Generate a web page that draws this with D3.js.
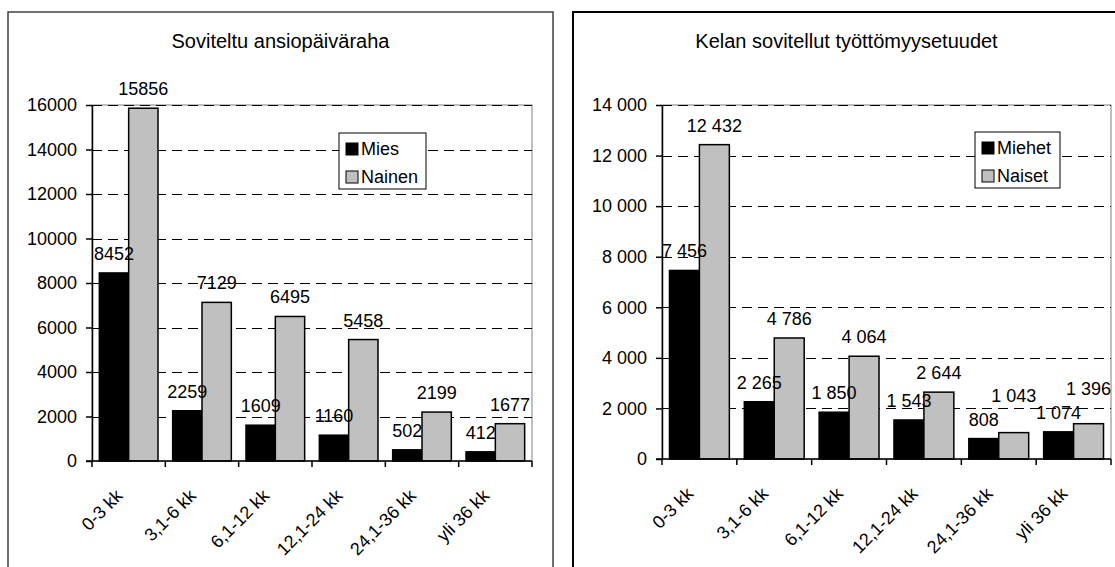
<!DOCTYPE html>
<html>
<head>
<meta charset="utf-8">
<script src="https://cdn.jsdelivr.net/npm/d3@7"></script>
<style>
  html, body { margin: 0; padding: 0; background: #fff; }
  svg { display: block; }
  text { font-family: "Liberation Sans", Arial, sans-serif; fill: #000; }
</style>
</head>
<body>
<svg id="chart" width="1115" height="567"></svg>
<script>
// ---- Data ----
const categories = ["0-3 kk", "3,1-6 kk", "6,1-12 kk", "12,1-24 kk", "24,1-36 kk", "yli 36 kk"];

const leftTitle = "Soviteltu ansiopäiväraha";
const leftSeriesNames = ["Mies", "Nainen"];
const leftMale = [8452, 2259, 1609, 1160, 502, 412];
const leftFemale = [15856, 7129, 6495, 5458, 2199, 1677];
const leftTicks = [0, 2000, 4000, 6000, 8000, 10000, 12000, 14000, 16000];

const rightTitle = "Kelan sovitellut työttömyysetuudet";
const rightSeriesNames = ["Miehet", "Naiset"];
const rightMale = [7456, 2265, 1850, 1543, 808, 1074];
const rightFemale = [12432, 4786, 4064, 2644, 1043, 1396];
const rightTicks = [0, 2000, 4000, 6000, 8000, 10000, 12000, 14000];

const seriesColors = ["#000000", "#c0c0c0"];

const fiLocale = d3.formatLocale({decimal: ",", thousands: "\u00a0", grouping: [3], currency: ["", " €"]});
const fmtPlain = d3.format("d");
const fmtSpace = fiLocale.format(",d");

const svg = d3.select("#chart");

function drawChart(cfg) {
  const g = svg.append("g");
  // outer border
  g.append("rect")
    .attr("x", cfg.border[0]).attr("y", cfg.border[1])
    .attr("width", cfg.border[2] - cfg.border[0]).attr("height", cfg.border[3] - cfg.border[1])
    .attr("fill", "none").attr("stroke", cfg.borderColor).attr("stroke-width", cfg.borderWidth);

  // title
  g.append("text")
    .attr("x", (cfg.border[0] + cfg.border[2]) / 2)
    .attr("y", cfg.titleY)
    .attr("text-anchor", "middle")
    .style("font-size", "20px")
    .text(cfg.title);

  const x0 = d3.scaleBand().domain(categories).range([cfg.plot.x0, cfg.plot.x1])
    .paddingInner(0.2).paddingOuter(0.1);
  const x1 = d3.scaleBand().domain([0, 1]).range([0, x0.bandwidth()]).padding(0);
  const y = d3.scaleLinear().domain([0, cfg.max]).range([cfg.plot.y1, cfg.plot.y0]);

  // plot area border
  g.append("rect")
    .attr("x", cfg.plot.x0).attr("y", cfg.plot.y0)
    .attr("width", cfg.plot.x1 - cfg.plot.x0).attr("height", cfg.plot.y1 - cfg.plot.y0)
    .attr("fill", "none").attr("stroke", "#808080").attr("stroke-width", 1);

  // gridlines
  g.selectAll(".grid").data(cfg.ticks.filter(t => t > 0)).join("line")
    .attr("x1", cfg.plot.x0).attr("x2", cfg.plot.x1)
    .attr("y1", d => Math.round(y(d)) + 0.5).attr("y2", d => Math.round(y(d)) + 0.5)
    .attr("stroke", "#000").attr("stroke-width", 1).attr("stroke-dasharray", "10,6");

  // bars
  const series = [cfg.male, cfg.female];
  series.forEach((vals, si) => {
    g.selectAll(".bar" + si).data(vals).join("rect")
      .attr("x", (d, i) => x0(categories[i]) + x1(si))
      .attr("y", d => y(d))
      .attr("width", x1.bandwidth())
      .attr("height", d => y(0) - y(d))
      .attr("fill", seriesColors[si])
      .attr("stroke", "#000").attr("stroke-width", 1.5);
  });

  // y axis
  const yAxis = d3.axisLeft(y).tickValues(cfg.ticks).tickFormat(cfg.fmt)
    .tickSize(6).tickSizeOuter(0).tickPadding(9);
  const ya = g.append("g").attr("transform", `translate(${cfg.plot.x0},0)`).call(yAxis);
  ya.select(".domain").attr("stroke", "#000").attr("stroke-width", 1.5);
  ya.selectAll(".tick line").attr("stroke", "#000").attr("stroke-width", 1.5);
  ya.selectAll(".tick text").style("font-size", "18px").attr("fill", "#000")
    .attr("font-family", null);

  // x axis line
  g.append("line")
    .attr("x1", cfg.plot.x0 - 6).attr("x2", cfg.plot.x1)
    .attr("y1", y(0)).attr("y2", y(0))
    .attr("stroke", "#000").attr("stroke-width", 1.5);
  // x ticks at group boundaries
  const step = x0.step();
  const half = (step - x0.bandwidth()) / 2;
  const bounds = categories.map(c => x0(c) - half).concat([cfg.plot.x1]);
  g.selectAll(".xtick").data(bounds).join("line")
    .attr("x1", d => d).attr("x2", d => d)
    .attr("y1", y(0)).attr("y2", y(0) + 6)
    .attr("stroke", "#000").attr("stroke-width", 1.5);

  // x labels rotated
  g.selectAll(".xlab").data(categories).join("text")
    .attr("transform", d => `translate(${x0(d) + x0.bandwidth() / 2 - 5},${y(0) + 36}) rotate(-45)`)
    .attr("text-anchor", "end")
    .style("font-size", "18px")
    .text(d => d);

  // value labels (female label lifted when it would collide with the male label)
  const labY = [[], []];
  cfg.male.forEach((d, i) => {
    const ym = y(d) - 13;
    let yf = y(cfg.female[i]) - 13;
    if (yf > ym - 20) yf = ym - 24;
    labY[0].push(ym); labY[1].push(yf);
  });
  series.forEach((vals, si) => {
    g.selectAll(".lab" + si).data(vals).join("text")
      .attr("x", (d, i) => x0(categories[i]) + x1(si) + x1.bandwidth() / 2)
      .attr("y", (d, i) => labY[si][i])
      .attr("text-anchor", "middle")
      .style("font-size", "18px")
      .text(d => cfg.fmt(d));
  });

  // legend
  const L = cfg.legend;
  const lg = g.append("g");
  lg.append("rect")
    .attr("x", L.x).attr("y", L.y).attr("width", L.w).attr("height", L.h)
    .attr("fill", "#fff").attr("stroke", "#000").attr("stroke-width", 1);
  cfg.names.forEach((name, i) => {
    const by = L.y + 22 + i * 28;
    lg.append("rect")
      .attr("x", L.x + 7).attr("y", by - 12).attr("width", 12).attr("height", 12)
      .attr("fill", seriesColors[i]).attr("stroke", "#000").attr("stroke-width", 1);
    lg.append("text")
      .attr("x", L.x + 22).attr("y", by)
      .style("font-size", "18px")
      .text(name);
  });
}

drawChart({
  title: leftTitle, names: leftSeriesNames, male: leftMale, female: leftFemale,
  ticks: leftTicks, max: 16000, fmt: fmtPlain,
  border: [8, 12, 553, 590], borderColor: "#404040", borderWidth: 1.5, titleY: 48,
  plot: {x0: 92, x1: 532, y0: 105, y1: 461},
  legend: {x: 339, y: 133, w: 87, h: 56}
});

drawChart({
  title: rightTitle, names: rightSeriesNames, male: rightMale, female: rightFemale,
  ticks: rightTicks, max: 14000, fmt: fmtSpace,
  border: [573, 12, 1120, 590], borderColor: "#000", borderWidth: 2, titleY: 48,
  plot: {x0: 662, x1: 1111, y0: 105, y1: 459},
  legend: {x: 975, y: 132, w: 85, h: 56}
});
</script>
</body>
</html>
